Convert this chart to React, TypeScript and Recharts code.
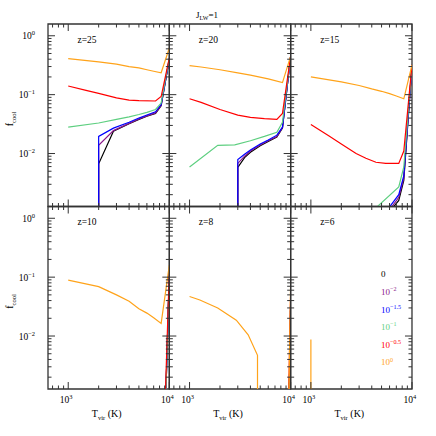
import { LineChart, Line, XAxis, YAxis, ReferenceArea } from 'recharts';

type Pt = [number, number];

const FONT = "'Liberation Serif', 'Times New Roman', serif";
const W = 436;
const H = 436;
const X0 = 48;
const Y0 = 24;
const PW = 121.33;
const PH = 182.5;
const X_MIN = 10 ** 2.8;
const X_MAX = 1e4;
const Y_MIN = 10 ** -2.9;
const Y_MAX = 10 ** 0.2;
const OFF = 1e-4; // below the axis, clipped away
const AX = 1; // axis box size (must be > 0 or recharts skips the ticks)

// J21 series order: 0, 10^-2, 10^-1.5, 10^-1, 10^-0.5, 10^0
const seriesColors = ['#000000', '#8b1a8b', '#0000ff', '#5ecf80', '#ff0000', '#ffa31a'];
const legendExps = ['', '-2', '-1.5', '-1', '-0.5', '0'];
const redshifts = [25, 20, 15, 10, 8, 6];

const xTicks = [700, 800, 900, 1000, 2000, 3000, 4000, 5000, 6000, 7000, 8000, 9000, 10000];
const yTicks = [
  0.002, 0.003, 0.004, 0.005, 0.006, 0.007, 0.008, 0.009, 0.01,
  0.02, 0.03, 0.04, 0.05, 0.06, 0.07, 0.08, 0.09, 0.1,
  0.2, 0.3, 0.4, 0.5, 0.6, 0.7, 0.8, 0.9, 1,
];

// z = 25
const z25Black: Pt[] = [[2000, OFF], [2000, 0.0067], [2800, 0.024], [4000, 0.032], [5000, 0.038], [6000, 0.043], [7300, 0.048], [8300, 0.065], [10000, 0.4]];
const z25Purple: Pt[] = [[2000, OFF], [2000, 0.0138], [2800, 0.0245], [4000, 0.0325], [5000, 0.0385], [6000, 0.0435], [7300, 0.049], [8300, 0.066], [10000, 0.4]];
const z25Blue: Pt[] = [[2000, OFF], [2000, 0.0195], [2800, 0.027], [4000, 0.034], [5000, 0.04], [6000, 0.045], [7300, 0.051], [8300, 0.068], [10000, 0.4]];
const z25Green: Pt[] = [[1000, 0.028], [2000, 0.033], [3000, 0.038], [4000, 0.042], [5000, 0.046], [6000, 0.05], [7300, 0.056], [8300, 0.072], [10000, 0.42]];
const z25Red: Pt[] = [[1000, 0.14], [1500, 0.118], [2000, 0.105], [3000, 0.088], [4000, 0.081], [5000, 0.079], [7300, 0.078], [8300, 0.093], [10000, 0.42]];
const z25Orange: Pt[] = [[1000, 0.41], [2000, 0.36], [3000, 0.33], [4000, 0.3], [5000, 0.285], [6000, 0.265], [7000, 0.25], [8300, 0.235], [10000, 0.62]];

// z = 20
const z20Black: Pt[] = [[3000, OFF], [3000, 0.0058], [3500, 0.0085], [4000, 0.0105], [5000, 0.0135], [6000, 0.016], [7300, 0.019], [8300, 0.027], [10000, 0.45]];
const z20Purple: Pt[] = [[3000, OFF], [3000, 0.0068], [3500, 0.009], [4000, 0.011], [5000, 0.014], [6000, 0.0165], [7300, 0.0195], [8300, 0.0275], [10000, 0.45]];
const z20Blue: Pt[] = [[3000, OFF], [3000, 0.0079], [3500, 0.0097], [4000, 0.0115], [5000, 0.0145], [6000, 0.017], [7300, 0.0205], [8300, 0.028], [10000, 0.45]];
const z20Green: Pt[] = [[1000, 0.0059], [1900, 0.0138], [2800, 0.014], [4000, 0.0165], [5500, 0.0195], [7300, 0.023], [8300, 0.034], [10000, 0.45]];
const z20Red: Pt[] = [[1000, 0.085], [1300, 0.074], [2000, 0.056], [3000, 0.045], [4000, 0.041], [5500, 0.039], [7300, 0.038], [8300, 0.048], [10000, 0.45]];
const z20Orange: Pt[] = [[1000, 0.31], [1300, 0.295], [2000, 0.265], [3000, 0.235], [4000, 0.215], [6000, 0.185], [8300, 0.16], [10000, 0.45]];

// z = 15
const z15Black: Pt[] = [[6200, 0.0011], [7400, 0.0016], [8300, 0.0035], [10000, 0.32]];
const z15Purple: Pt[] = [[6000, 0.0011], [7400, 0.0018], [8300, 0.0038], [10000, 0.32]];
const z15Blue: Pt[] = [[5700, 0.0011], [7400, 0.002], [8300, 0.0042], [10000, 0.32]];
const z15Green: Pt[] = [[4300, 0.00115], [7400, 0.0027], [8300, 0.0059], [10000, 0.32]];
const z15Red: Pt[] = [[1000, 0.031], [1500, 0.02], [2000, 0.0145], [2800, 0.01], [3500, 0.0083], [4400, 0.0071], [5500, 0.0068], [7400, 0.0068], [8300, 0.011], [10000, 0.32]];
const z15Orange: Pt[] = [[1000, 0.2], [2000, 0.165], [3000, 0.143], [4000, 0.125], [5000, 0.114], [6000, 0.104], [7000, 0.095], [8300, 0.085], [10000, 0.32]];

// z = 10
const z10Black: Pt[] = [[9200, 0.0008], [10000, 0.12]];
const z10Purple: Pt[] = [[9200, 0.0008], [10000, 0.12]];
const z10Blue: Pt[] = [[9200, 0.0008], [10000, 0.12]];
const z10Green: Pt[] = [[9200, 0.0008], [10000, 0.12]];
const z10Red: Pt[] = [[9100, 0.0008], [10000, 0.13]];
const z10Orange: Pt[] = [[1000, 0.089], [2000, 0.069], [3000, 0.05], [4000, 0.039], [5000, 0.029], [6000, 0.0245], [7000, 0.0204], [8300, 0.0164], [10000, 0.16]];

// z = 8
const z8Black: Pt[] = [[9500, OFF], [10000, 0.04]];
const z8Purple: Pt[] = [[9500, OFF], [10000, 0.04]];
const z8Blue: Pt[] = [[9500, OFF], [10000, 0.04]];
const z8Green: Pt[] = [[9500, OFF], [10000, 0.04]];
const z8Red: Pt[] = [[9300, OFF], [10000, 0.053]];
const z8Orange: Pt[] = [[1000, 0.047], [1265, 0.041], [1900, 0.03], [2900, 0.0186], [3800, 0.0105], [4700, 0.0047], [4700, OFF], [9400, OFF], [10000, 0.089]];

// z = 6
const z6Orange: Pt[] = [[1000, OFF], [1000, 0.0087]];

const panels: Pt[][][] = [
  [z25Black, z25Purple, z25Blue, z25Green, z25Red, z25Orange],
  [z20Black, z20Purple, z20Blue, z20Green, z20Red, z20Orange],
  [z15Black, z15Purple, z15Blue, z15Green, z15Red, z15Orange],
  [z10Black, z10Purple, z10Blue, z10Green, z10Red, z10Orange],
  [z8Black, z8Purple, z8Blue, z8Green, z8Red, z8Orange],
  [[], [], [], [], [], z6Orange],
];

const isMajor = (v: number) => Math.abs(Math.log10(v) - Math.round(Math.log10(v))) < 1e-6;
const toRows = (pts: Pt[]) => pts.map(([t, f]) => ({ t, f }));

function Pow({ exp, size }: { exp: string; size: number }) {
  return (
    <>
      <tspan>10</tspan>
      <tspan dy={-size * 0.42} fontSize={size * 0.68}>{exp}</tspan>
    </>
  );
}

function XTick(props: any) {
  const { x, payload, top, bottom, showLabel } = props;
  const v = payload.value;
  const major = isMajor(v);
  const len = major ? 7 : 3.5;
  return (
    <g>
      <line x1={x} x2={x} y1={bottom} y2={bottom - len} stroke="#333" strokeWidth={1} />
      <line x1={x} x2={x} y1={top} y2={top + len} stroke="#333" strokeWidth={1} />
      {showLabel && major && (
        <text x={x - 2} y={bottom + 14} textAnchor="middle" fontSize={9.5} fontFamily={FONT} fill="#000">
          <Pow exp={String(Math.round(Math.log10(v)))} size={9.5} />
        </text>
      )}
    </g>
  );
}

function YTick(props: any) {
  const { y, payload, left, right, showLabel } = props;
  const v = payload.value;
  const major = isMajor(v);
  const len = major ? 7 : 3.5;
  const e = Math.round(Math.log10(v));
  return (
    <g>
      <line x1={left} x2={left + len} y1={y} y2={y} stroke="#333" strokeWidth={1} />
      <line x1={right} x2={right - len} y1={y} y2={y} stroke="#333" strokeWidth={1} />
      {showLabel && major && (
        <text x={left - 13} y={y + 3.5} textAnchor="end" fontSize={9.5} fontFamily={FONT} fill="#000">
          <Pow exp={e === 0 ? '0' : '\u2212' + String(-e)} size={9.5} />
        </text>
      )}
    </g>
  );
}

function Panel({ idx }: { idx: number }) {
  const col = idx % 3;
  const row = Math.floor(idx / 3);
  const left = X0 + col * PW;
  const top = Y0 + row * PH;
  const right = left + PW;
  const bottom = top + PH;
  return (
    <div style={{ position: 'absolute', left: 0, top: 0 }}>
      <LineChart width={W} height={H} margin={{ top, left: left - AX, right: W - right, bottom: H - bottom - AX }}>
        <XAxis
          type="number"
          dataKey="t"
          scale="log"
          domain={[X_MIN, X_MAX]}
          allowDataOverflow
          ticks={xTicks}
          interval={0}
          height={AX}
          axisLine={false}
          tickLine={false}
          tick={(p: any) => <XTick {...p} top={top} bottom={bottom} showLabel={row === 1} />}
        />
        <YAxis
          type="number"
          scale="log"
          domain={[Y_MIN, Y_MAX]}
          allowDataOverflow
          ticks={yTicks}
          interval={0}
          width={AX}
          axisLine={false}
          tickLine={false}
          tick={(p: any) => <YTick {...p} left={left} right={right} showLabel={col === 0} />}
        />
        <ReferenceArea x1={X_MIN} x2={X_MAX} y1={Y_MIN} y2={Y_MAX} fill="none" stroke="#333" strokeWidth={1.3} ifOverflow="visible" />
        {panels[idx].map((s, i) =>
          s.length ? (
            <Line
              key={i}
              data={toRows(s)}
              dataKey="f"
              stroke={seriesColors[i]}
              strokeWidth={1.2}
              dot={false}
              activeDot={false}
              isAnimationActive={false}
            />
          ) : null
        )}
      </LineChart>
    </div>
  );
}

export default function App() {
  const legendTop = 274.3;
  return (
    <div style={{ position: 'absolute', left: 0, top: 0, width: W, height: H, background: '#fff' }}>
      {redshifts.map((_, i) => (
        <Panel key={i} idx={i} />
      ))}
      <svg width={W} height={H} style={{ position: 'absolute', left: 0, top: 0, pointerEvents: 'none' }} fontFamily={FONT}>
        <text x={196} y={18} fontSize={9}>
          <tspan>J</tspan>
          <tspan dy={2} fontSize={6}>LW</tspan>
          <tspan dy={-2}>=1</tspan>
        </text>
        {redshifts.map((z, i) => (
          <text key={z} x={X0 + (i % 3) * PW + 29.5} y={Y0 + Math.floor(i / 3) * PH + 18.5} fontSize={9.5}>
            z={z}
          </text>
        ))}
        {[0, 1].map((r) => (
          <text key={r} transform={`translate(13, ${Y0 + r * PH + 95}) rotate(-90)`} textAnchor="middle" fontSize={10}>
            <tspan>f</tspan>
            <tspan dy={2.5} fontSize={6.5}>cool</tspan>
          </text>
        ))}
        {[0, 1, 2].map((c) => (
          <text key={c} x={X0 + c * PW + PW / 2 - 2} y={417} textAnchor="middle" fontSize={10}>
            <tspan>T</tspan>
            <tspan dy={2.5} fontSize={6.5}>vir</tspan>
            <tspan dy={-2.5}>{'  (K)'}</tspan>
          </text>
        ))}
        {legendExps.map((e, i) => (
          <text key={i} x={381} y={legendTop + i * 17.6 + 3} fontSize={9} fill={seriesColors[i]}>
            {e === '' ? '0' : <Pow exp={e.replace('-', '\u2212')} size={9} />}
          </text>
        ))}
      </svg>
    </div>
  );
}
